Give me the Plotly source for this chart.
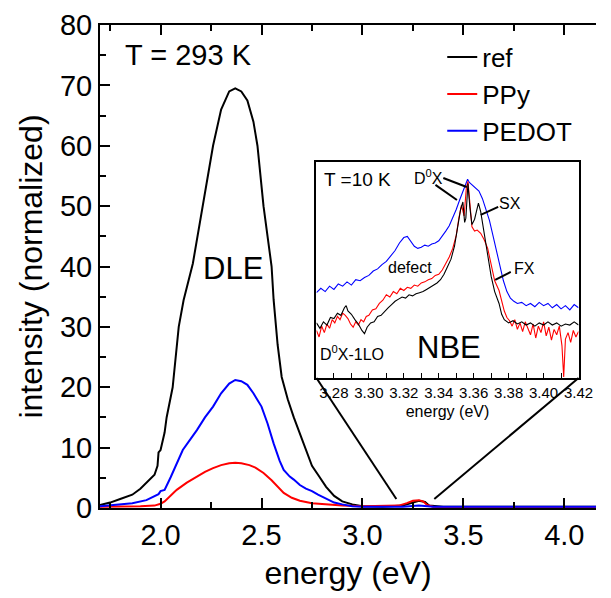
import plotly.graph_objects as go

FONT = "Liberation Sans, Arial, sans-serif"

# ---------------- main spectra (T = 293 K) ----------------
ref_e = [1.70, 1.75, 1.80, 1.86, 1.90, 1.94, 1.97, 1.985, 1.99, 2.00, 2.02, 2.03, 2.06, 2.09, 2.114,
         2.16, 2.21, 2.26, 2.30, 2.34, 2.37, 2.40, 2.43, 2.46, 2.48, 2.51, 2.53, 2.55, 2.56, 2.58,
         2.60, 2.63, 2.66, 2.70, 2.75, 2.78, 2.82, 2.86, 2.90, 2.95, 3.00, 3.10, 3.20, 3.25, 3.28,
         3.31, 3.33, 3.40, 3.60, 3.80, 4.00, 4.20]
ref_i = [0.5, 0.9, 1.5, 2.2, 3.2, 4.5, 5.5, 7.0, 9.2, 9.6, 12.5, 15.0, 20.0, 30.0, 34.4,
         40.5, 50.0, 60.0, 66.0, 69.0, 69.5, 69.0, 67.5, 64.0, 60.0, 50.0, 45.0, 40.0, 34.5, 27.0,
         21.7, 18.0, 15.0, 11.5, 7.0, 5.5, 3.5, 2.0, 1.1, 0.6, 0.3, 0.2, 0.4, 0.9, 1.2,
         1.0, 0.4, 0.2, 0.2, 0.2, 0.2, 0.2]

pedot_e = [1.70, 1.80, 1.86, 1.93, 1.97, 1.99, 2.00, 2.02, 2.05, 2.08, 2.11, 2.15, 2.18, 2.22,
           2.26, 2.30, 2.34, 2.37, 2.40, 2.43, 2.46, 2.50, 2.53, 2.56, 2.59, 2.61, 2.64, 2.66,
           2.69, 2.72, 2.75, 2.78, 2.82, 2.86, 2.90, 2.95, 3.00, 3.20, 3.28, 3.35, 3.60, 4.20]
pedot_i = [0.3, 0.6, 0.8, 1.3, 1.9, 2.3, 2.8, 3.0, 5.1, 7.5, 9.6, 11.5, 12.9, 15.0,
           16.8, 19.0, 20.6, 21.2, 21.0, 20.4, 19.0, 16.8, 14.0, 10.7, 7.8, 6.3, 5.2, 4.7,
           3.8, 3.2, 2.8, 2.2, 1.6, 0.9, 0.6, 0.3, 0.2, 0.2, 0.4, 0.2, 0.2, 0.2]

ppy_e = [1.70, 1.80, 1.90, 1.97, 2.00, 2.02, 2.05, 2.08, 2.13, 2.18, 2.22, 2.26, 2.30, 2.34,
         2.37, 2.40, 2.44, 2.47, 2.51, 2.55, 2.58, 2.61, 2.65, 2.69, 2.75, 2.82, 2.90, 3.00,
         3.10, 3.18, 3.22, 3.25, 3.28, 3.30, 3.32, 3.35, 3.50, 4.20]
ppy_i = [0.2, 0.2, 0.3, 0.4, 0.7, 1.1, 2.0, 3.0, 4.2, 5.2, 6.0, 6.6, 7.1, 7.4,
         7.5, 7.4, 7.1, 6.7, 5.8, 4.6, 3.5, 2.5, 1.7, 1.2, 0.8, 0.6, 0.4, 0.3,
         0.3, 0.4, 0.8, 1.2, 1.3, 1.1, 0.5, 0.2, 0.1, 0.1]

# ---------------- inset spectra (T = 10 K, arb. units) ----------------
in_pedot_e = [3.2700, 3.2725, 3.2750, 3.2775, 3.2800, 3.2825, 3.2850, 3.2875, 3.2900, 3.2925,
              3.2950, 3.2975, 3.3000, 3.3025, 3.3050, 3.3075, 3.3100, 3.3125, 3.3150, 3.3175,
              3.3200, 3.3220, 3.3240, 3.3260, 3.3280, 3.3300, 3.3320, 3.3340, 3.3360, 3.3380,
              3.3400, 3.3420, 3.3440, 3.3460, 3.3480, 3.3500, 3.3520, 3.3540, 3.3555, 3.3565,
              3.3575, 3.3590, 3.3610, 3.3630, 3.3650, 3.3670, 3.3690, 3.3710, 3.3730, 3.3750,
              3.3770, 3.3790, 3.3810, 3.3830, 3.3850, 3.3875, 3.3900, 3.3925, 3.3950, 3.3975,
              3.4000, 3.4025, 3.4050, 3.4075, 3.4100, 3.4125, 3.4150, 3.4175, 3.4200]
in_pedot_i = [39.5, 41.5, 40.0, 42.5, 41.0, 43.5, 42.5, 44.5, 43.0, 45.5,
              45.0, 46.5, 47.5, 49.5, 50.5, 52.5, 54.0, 56.5, 59.0, 62.5,
              65.0, 65.5, 63.5, 61.0, 60.0, 60.5, 61.5, 61.0, 62.0, 62.5,
              63.5, 65.5, 68.0, 70.5, 74.0, 78.0, 82.5, 87.0, 90.0, 92.0,
              90.5, 89.5, 88.0, 86.5, 83.0, 78.5, 73.0, 66.0, 59.0, 52.0,
              45.0, 40.0, 37.0, 35.5, 34.5, 35.0, 33.5, 34.5, 33.0, 35.0,
              33.5, 34.5, 32.5, 34.0, 32.0, 33.5, 31.5, 34.0, 32.5]

in_ref_e = [3.2700, 3.2720, 3.2740, 3.2760, 3.2780, 3.2800, 3.2820, 3.2840, 3.2860, 3.2870,
            3.2880, 3.2900, 3.2920, 3.2940, 3.2960, 3.2975, 3.2990, 3.3010, 3.3030, 3.3050,
            3.3070, 3.3090, 3.3110, 3.3130, 3.3150, 3.3170, 3.3190, 3.3210, 3.3230, 3.3250,
            3.3270, 3.3290, 3.3310, 3.3330, 3.3350, 3.3370, 3.3390, 3.3410, 3.3430, 3.3450,
            3.3470, 3.3490, 3.3510, 3.3525, 3.3538, 3.3548, 3.3555, 3.3567, 3.3578, 3.3590,
            3.3605, 3.3618, 3.3627, 3.3640, 3.3655, 3.3670, 3.3685, 3.3700, 3.3720, 3.3745,
            3.3760, 3.3775, 3.3800, 3.3825, 3.3850, 3.3875, 3.3900, 3.3925, 3.3950, 3.3975,
            3.4000, 3.4025, 3.4050, 3.4075, 3.4100, 3.4125, 3.4150, 3.4175, 3.4200]
in_ref_i = [25.5, 23.0, 26.0, 24.5, 28.0, 27.5, 30.0, 29.0, 32.5, 33.5,
            31.0, 29.5, 27.0, 25.0, 22.0, 20.5, 23.5, 25.5, 26.0, 28.5,
            29.0, 31.0, 32.5, 34.0, 35.5, 36.5, 37.5, 37.0, 38.5, 38.0,
            39.0, 39.5, 40.0, 41.0, 42.0, 43.0, 44.0, 45.5, 48.0, 51.5,
            55.0, 61.0, 70.0, 78.0, 81.5, 72.0, 74.0, 90.0, 79.0, 71.0,
            73.5, 79.0, 81.0, 77.0, 70.0, 63.0, 55.0, 47.0, 40.0, 34.5,
            29.5, 27.0, 25.5, 26.5, 25.0, 26.0, 24.5, 25.5, 24.0, 25.5,
            24.5, 26.0, 24.5, 25.5, 24.0, 25.0, 24.5, 26.0, 24.5]

in_ppy_e = [3.2700, 3.2715, 3.2730, 3.2745, 3.2760, 3.2775, 3.2790, 3.2805, 3.2820, 3.2835,
            3.2850, 3.2865, 3.2880, 3.2895, 3.2910, 3.2925, 3.2940, 3.2955, 3.2970, 3.2985,
            3.3000, 3.3020, 3.3040, 3.3060, 3.3080, 3.3100, 3.3120, 3.3140, 3.3160, 3.3180,
            3.3200, 3.3220, 3.3240, 3.3260, 3.3280, 3.3300, 3.3320, 3.3340, 3.3360, 3.3380,
            3.3400, 3.3420, 3.3440, 3.3460, 3.3480, 3.3500, 3.3515, 3.3530, 3.3545, 3.3558,
            3.3567, 3.3578, 3.3590, 3.3605, 3.3620, 3.3640, 3.3660, 3.3680, 3.3700, 3.3720,
            3.3745, 3.3760, 3.3775, 3.3790, 3.3805, 3.3820, 3.3835, 3.3850, 3.3865, 3.3880,
            3.3895, 3.3910, 3.3925, 3.3940, 3.3955, 3.3970, 3.3985, 3.4000, 3.4015, 3.4030,
            3.4045, 3.4060, 3.4075, 3.4090, 3.4105, 3.4115, 3.4125, 3.4140, 3.4155, 3.4170,
            3.4185, 3.4200]
in_ppy_i = [22.0, 19.0, 24.0, 21.0, 25.0, 23.0, 27.0, 25.5, 28.5, 27.0,
            30.0, 29.0, 27.5, 25.0, 23.5, 26.0, 24.5, 27.0, 26.0, 28.5,
            29.0, 31.5, 32.0, 34.5, 36.0, 38.5, 37.5, 40.0, 39.0, 41.5,
            40.5, 42.0, 41.5, 43.0, 42.5, 44.0, 44.5, 45.5, 46.0, 47.5,
            48.0, 50.0, 53.0, 56.0, 60.0, 66.0, 74.0, 80.0, 75.0, 88.0,
            91.0, 82.0, 70.0, 68.0, 68.5, 67.0, 64.0, 60.0, 52.0, 45.0,
            40.5, 36.0, 31.0, 28.0, 26.5, 24.0, 27.0, 22.5, 25.5, 21.5,
            26.0, 23.0, 20.0, 25.0, 18.5, 24.0, 21.0, 26.0, 19.5, 23.5,
            17.5, 22.5, 20.0, 24.0, 15.0, 0.5, 18.0, 21.0, 16.5, 22.0,
            19.0, 21.5]

# ---------------- layout constants ----------------
X_RANGE = [1.7, 4.157]
Y_RANGE = [0, 80]
X2_RANGE = [3.27, 3.42]
Y2_RANGE = [0, 100]
X2_DOM = [0.4364, 0.9648]
Y2_DOM = [0.2692, 0.7164]
ZOOM_LEFT = (3.168, 1.5)    # where connecting lines meet the main spectrum
ZOOM_RIGHT = (3.356, 1.5)

fig = go.Figure()
for e, i, name, col in [(ref_e, ref_i, "ref", "black"), (ppy_e, ppy_i, "PPy", "red"),
                        (pedot_e, pedot_i, "PEDOT", "blue")]:
    fig.add_trace(go.Scatter(x=e, y=i, mode="lines", name=name,
                             line=dict(color=col, width=2), xaxis="x", yaxis="y"))

for e, i, col in [(in_pedot_e, in_pedot_i, "blue"), (in_ppy_e, in_ppy_i, "red"),
                  (in_ref_e, in_ref_i, "black")]:
    fig.add_trace(go.Scatter(x=e, y=i, mode="lines", showlegend=False,
                             line=dict(color=col, width=1.1), xaxis="x2", yaxis="y2"))


def to_paper(e, v):
    px = (e - X_RANGE[0]) / (X_RANGE[1] - X_RANGE[0])
    py = (v - Y_RANGE[0]) / (Y_RANGE[1] - Y_RANGE[0])
    return px, py


shapes = []
for corner_x, pt in [(X2_DOM[0], ZOOM_LEFT), (X2_DOM[1], ZOOM_RIGHT)]:
    px, py = to_paper(*pt)
    shapes.append(dict(type="line", xref="paper", yref="paper", x0=corner_x, y0=Y2_DOM[0],
                       x1=px, y1=py, line=dict(color="black", width=2)))

# pointer lines inside the inset (x2/y2 data coords)
pointers = [(3.3426, 92.6, 3.3560, 88.4), (3.3381, 89.4, 3.3504, 82.4),
            (3.3740, 79.2, 3.3640, 75.5), (3.3812, 49.1, 3.3723, 45.4)]
for x0, y0, x1, y1 in pointers:
    shapes.append(dict(type="line", xref="x2", yref="y2", x0=x0, y0=y0, x1=x1, y1=y1,
                       line=dict(color="black", width=2)))

annots = [
    dict(text="T = 293 K", x=2.14, y=75, xref="x", yref="y", font=dict(size=29)),
    dict(text="DLE", x=2.36, y=39.7, xref="x", yref="y", font=dict(size=31)),
    dict(text="T =10 K", x=3.2937, y=91.7, xref="x2", yref="y2", font=dict(size=19)),
    dict(text="D<sup>0</sup>X", x=3.3342, y=93, xref="x2", yref="y2", font=dict(size=16)),
    dict(text="SX", x=3.3806, y=81, xref="x2", yref="y2", font=dict(size=16)),
    dict(text="FX", x=3.389, y=50.5, xref="x2", yref="y2", font=dict(size=16)),
    dict(text="defect", x=3.3238, y=51, xref="x2", yref="y2", font=dict(size=16)),
    dict(text="D<sup>0</sup>X-1LO", x=3.2903, y=11.6, xref="x2", yref="y2", font=dict(size=16)),
    dict(text="NBE", x=3.346, y=13.9, xref="x2", yref="y2", font=dict(size=31)),
]
for a in annots:
    a.update(showarrow=False, xanchor="center", yanchor="middle")
    a["font"].update(family=FONT, color="black")

axis_common = dict(showgrid=False, zeroline=False, linecolor="black", color="black")

fig.update_layout(
    width=611, height=598,
    margin=dict(l=100, r=0, t=25, b=90),
    paper_bgcolor="white", plot_bgcolor="white",
    font=dict(family=FONT, color="black"),
    shapes=shapes, annotations=annots,
    showlegend=True,
    legend=dict(x=0.69, y=0.982, xanchor="left", yanchor="top", bgcolor="rgba(0,0,0,0)",
                font=dict(size=26, family=FONT), tracegroupgap=0, itemwidth=30),
    xaxis=dict(**axis_common, domain=[0, 1], range=X_RANGE, anchor="y",
               showline=True, linewidth=2, mirror="ticks",
               ticks="inside", ticklen=10, tickwidth=2, dtick=0.5, tick0=0, tickformat=".1f",
               minor=dict(ticks="inside", ticklen=6, tickwidth=2, dtick=0.25, tick0=0),
               tickfont=dict(size=29),
               title=dict(text="energy (eV)", font=dict(size=32), standoff=12)),
    yaxis=dict(**axis_common, domain=[0, 1], range=Y_RANGE, anchor="x",
               showline=True, linewidth=2, mirror=False,
               ticks="inside", ticklen=10, tickwidth=2, dtick=10, tick0=0,
               minor=dict(ticks="inside", ticklen=6, tickwidth=2, dtick=5, tick0=0),
               tickfont=dict(size=29),
               title=dict(text="intensity (normalized)", font=dict(size=32), standoff=8)),
    xaxis2=dict(**axis_common, domain=X2_DOM, range=X2_RANGE, anchor="y2",
                showline=True, linewidth=1.5, mirror=True,
                ticks="inside", ticklen=5, tickwidth=1.2, dtick=0.02, tick0=0, tickformat=".2f",
                minor=dict(ticks="inside", ticklen=5, tickwidth=1.2, dtick=0.01, tick0=0),
                tickfont=dict(size=15),
                title=dict(text="energy (eV)", font=dict(size=16), standoff=6)),
    yaxis2=dict(**axis_common, domain=Y2_DOM, range=Y2_RANGE, anchor="x2",
                showline=True, linewidth=1.5, mirror=True, ticks="", showticklabels=False),
)

fig.write_html("out.html")
